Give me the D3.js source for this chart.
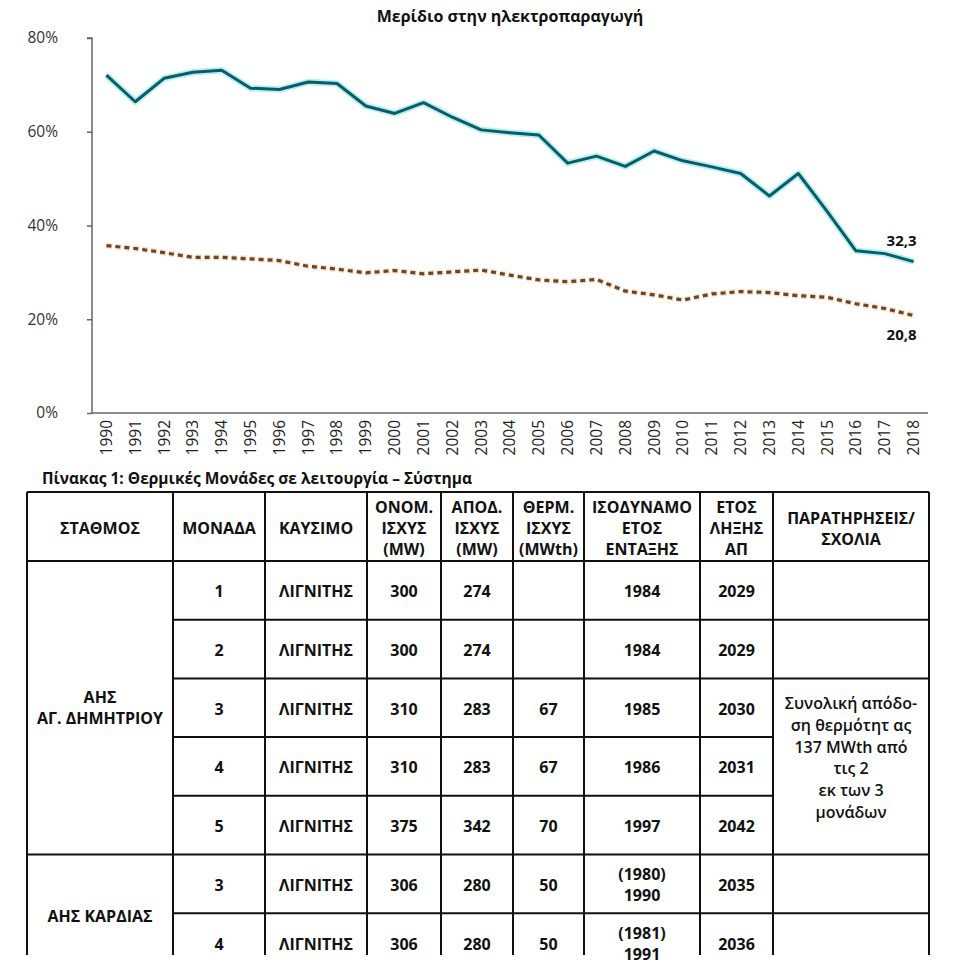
<!DOCTYPE html>
<html><head><meta charset="utf-8">
<script src="https://cdn.jsdelivr.net/npm/d3@7"></script>
<style>
html,body{margin:0;padding:0;background:#fff;}
svg{display:block;}
</style></head>
<body>
<svg id="c" width="960" height="960"></svg>
<script>
const years = [1990,1991,1992,1993,1994,1995,1996,1997,1998,1999,2000,2001,2002,2003,2004,2005,2006,2007,2008,2009,2010,2011,2012,2013,2014,2015,2016,2017,2018];
const ligniteShare = [72.1,66.4,71.4,72.7,73.1,69.3,69.0,70.6,70.3,65.5,63.9,66.2,63.1,60.4,59.8,59.3,53.3,54.8,52.6,55.9,53.8,52.5,51.1,46.3,51.1,43.0,34.6,34.0,32.3];
const secondShare = [35.7,35.1,34.2,33.2,33.2,32.9,32.5,31.3,30.7,29.9,30.4,29.7,30.1,30.5,29.4,28.4,28.0,28.5,26.0,25.2,24.1,25.4,25.9,25.7,25.0,24.7,23.3,22.3,20.8];
const yTicks = [0,20,40,60,80];
const chartTitle = "Μερίδιο στην ηλεκτροπαραγωγή";
const endLabels = ["32,3","20,8"];

const tableCaption = "Πίνακας 1: Θερμικές Μονάδες σε λειτουργία – Σύστημα";
const headers = [["ΣΤΑΘΜΟΣ"],["ΜΟΝΑΔΑ"],["ΚΑΥΣΙΜΟ"],["ΟΝΟΜ.","ΙΣΧΥΣ","(MW)"],["ΑΠΟΔ.","ΙΣΧΥΣ","(MW)"],["ΘΕΡΜ.","ΙΣΧΥΣ","(MWth)"],["ΙΣΟΔΥΝΑΜΟ","ΕΤΟΣ","ΕΝΤΑΞΗΣ"],["ΕΤΟΣ","ΛΗΞΗΣ","ΑΠ"],["ΠΑΡΑΤΗΡΗΣΕΙΣ/","ΣΧΟΛΙΑ"]];
const units = ["1","2","3","4","5","3","4"];
const fuels = ["ΛΙΓΝΙΤΗΣ","ΛΙΓΝΙΤΗΣ","ΛΙΓΝΙΤΗΣ","ΛΙΓΝΙΤΗΣ","ΛΙΓΝΙΤΗΣ","ΛΙΓΝΙΤΗΣ","ΛΙΓΝΙΤΗΣ"];
const nominalMW = ["300","300","310","310","375","306","306"];
const netMW = ["274","274","283","283","342","280","280"];
const thermalMWth = ["","","67","67","70","50","50"];
const equivYear = [["1984"],["1984"],["1985"],["1986"],["1997"],["(1980)","1990"],["(1981)","1991"]];
const endYear = ["2029","2029","2030","2031","2042","2035","2036"];
const stations = [{name:["ΑΗΣ","ΑΓ. ΔΗΜΗΤΡΙΟΥ"], from:0, to:4},{name:["ΑΗΣ ΚΑΡΔΙΑΣ"], from:5, to:7}];
const remarks = [{lines:[], from:0,to:0},{lines:[],from:1,to:1},{lines:["Συνολική απόδο-","ση θερμότητ ας","137 MWth από","τις 2","εκ των 3","μονάδων"],from:2,to:4},{lines:[],from:5,to:5},{lines:[],from:6,to:6}];

const svg = d3.select("#c");
const FONT = "'Open Sans', 'Noto Sans', sans-serif";

// ---- Chart ----
const x = d3.scaleBand().domain(years).range([92, 928]);
const y = d3.scaleLinear().domain([0, 80]).range([413, 38]);

svg.append("text").attr("x", 510).attr("y", 22).attr("text-anchor","middle")
  .attr("font-family", FONT).attr("font-weight","bold").attr("font-size",16).attr("fill","#111").text(chartTitle);

const yAxis = svg.append("g").attr("transform","translate(92,0)")
  .call(d3.axisLeft(y).tickValues(yTicks).tickFormat(d => d + "%").tickSize(5).tickPadding(30));
yAxis.select(".domain").attr("stroke","#666").attr("stroke-width",1.5).attr("d","M-5,38H0V413");
yAxis.selectAll(".tick line").attr("stroke","#666").attr("stroke-width",1.5);
yAxis.selectAll(".tick text").attr("font-family",FONT).attr("font-size",15.5).attr("fill","#333").attr("text-anchor","end").attr("x",-34);

const xAxis = svg.append("g").attr("transform","translate(0,413)")
  .call(d3.axisBottom(x).tickSize(0).tickPadding(6));
xAxis.select(".domain").attr("stroke","#666").attr("stroke-width",1.5).attr("d","M92,0H928");
xAxis.selectAll(".tick text").attr("font-family",FONT).attr("font-size",15.5).attr("fill","#222")
  .attr("transform","rotate(-90)").attr("text-anchor","end").attr("dy","0.35em").attr("x",-7).attr("y",0);

const cx = d => x(d) + x.bandwidth()/2;
const line = d3.line().x((d,i) => cx(years[i])).y(d => y(d));

// halo
svg.append("path").datum(ligniteShare).attr("d", line).attr("fill","none")
  .attr("stroke","#7fe6f0").attr("stroke-width",6.5).attr("stroke-opacity",0.6).attr("stroke-linejoin","round");
svg.append("path").datum(ligniteShare).attr("d", line).attr("fill","none")
  .attr("stroke","#0d5b63").attr("stroke-width",3).attr("stroke-linejoin","round");

svg.append("path").datum(secondShare).attr("d", line).attr("fill","none")
  .attr("stroke","#f0b070").attr("stroke-width",6).attr("stroke-opacity",0.35).attr("stroke-dasharray","6,3");
svg.append("path").datum(secondShare).attr("d", line).attr("fill","none")
  .attr("stroke","#6e4521").attr("stroke-width",3.2).attr("stroke-dasharray","5,4");

const last = years[years.length-1];
svg.append("text").attr("x", cx(last)+3).attr("y", y(ligniteShare[28]) - 16).attr("text-anchor","end")
  .attr("font-family",FONT).attr("font-weight","bold").attr("font-size",15).attr("fill","#111").text(endLabels[0]);
svg.append("text").attr("x", cx(last)+3).attr("y", y(secondShare[28]) + 24).attr("text-anchor","end")
  .attr("font-family",FONT).attr("font-weight","bold").attr("font-size",15).attr("fill","#111").text(endLabels[1]);

// ---- Table ----
svg.append("text").attr("x", 42).attr("y", 484).attr("font-family",FONT).attr("font-weight","bold")
  .attr("font-size",15.5).attr("fill","#111").text(tableCaption);

const colEdges = [27,173,265,367,441,513,584,700,773,929];
const headTop = 492, headBot = 561, rowH = 58.7;
const nRows = 7;
const rowTop = i => headBot + i*rowH;
const tableBottom = 955;
const TS = 16;
const g = svg.append("g");
const tx = (xx, yy, txt, size, weight) => g.append("text").attr("x",xx).attr("y",yy).attr("text-anchor","middle")
  .attr("dominant-baseline","central").attr("font-family",FONT).attr("font-weight",weight||"bold")
  .attr("font-size",size||TS).attr("fill","#111").text(txt);
const ln = (x1,y1,x2,y2) => g.append("line").attr("x1",x1).attr("y1",y1).attr("x2",x2).attr("y2",y2)
  .attr("stroke","#111").attr("stroke-width",2);

// headers
headers.forEach((h,i) => {
  const mid = (colEdges[i]+colEdges[i+1])/2;
  const lh = 21;
  const c0 = (i===8) ? 528 : 528;
  h.forEach((t,j) => {
    const t0 = tx(mid, c0 + (j-(h.length-1)/2)*lh, t, TS);
    const w = t0.node().getComputedTextLength();
    const avail = colEdges[i+1]-colEdges[i]-8;
    if (w > avail) t0.attr("textLength", avail).attr("lengthAdjust","spacingAndGlyphs");
  });
});
// cells
const colsData = [units, fuels, nominalMW, netMW, thermalMWth];
for (let r=0;r<nRows;r++){
  const cy = rowTop(r) + rowH/2 + 1;
  colsData.forEach((arr,ci) => {
    const c = ci+1;
    const mid = (colEdges[c]+colEdges[c+1])/2;
    if (arr[r]) tx(mid, cy, arr[r], TS);
  });
  const ey = equivYear[r];
  const mid6 = (colEdges[6]+colEdges[7])/2;
  ey.forEach((t,j) => tx(mid6, cy + (j-(ey.length-1)/2)*21, t, TS));
  tx((colEdges[7]+colEdges[8])/2, cy, endYear[r], TS);
}
stations.forEach(s => {
  const top = rowTop(s.from), bot = s.to>=nRows ? rowTop(s.from)+2*rowH : rowTop(s.to+1);
  const mid = (top+bot)/2 + (s.name.length===1? 3: 0);
  s.name.forEach((t,j) => tx((colEdges[0]+colEdges[1])/2, mid + (j-(s.name.length-1)/2)*21, t, TS));
});
remarks.forEach(rm => {
  const top = rowTop(rm.from), bot = rowTop(rm.to+1);
  const mid = (top+bot)/2 - 9;
  rm.lines.forEach((t,j) => tx((colEdges[8]+colEdges[9])/2, mid + (j-(rm.lines.length-1)/2)*21.7, t, 16, 600));
});

// grid lines
ln(colEdges[0], headTop, colEdges[9], headTop);
ln(colEdges[0], headBot, colEdges[9], headBot);
for (let r=1;r<nRows;r++){
  const yy = rowTop(r);
  if (r===5) ln(colEdges[0], yy, colEdges[9], yy);
  else if (r===3 || r===4) ln(colEdges[1], yy, colEdges[8], yy);
  else ln(colEdges[1], yy, colEdges[9], yy);
}
colEdges.forEach(xx => ln(xx, headTop, xx, tableBottom));
</script>
</body></html>
